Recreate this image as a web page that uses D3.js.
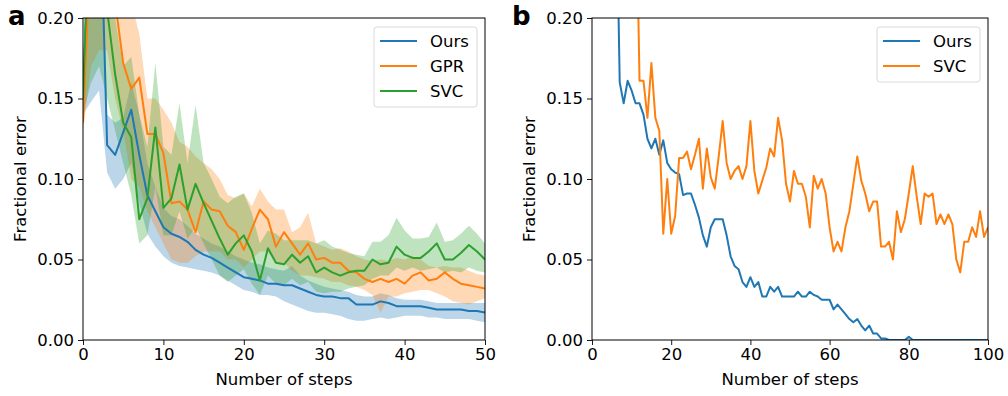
<!DOCTYPE html>
<html><head><meta charset="utf-8">
<script src="https://cdn.jsdelivr.net/npm/d3@7"></script>
<style>body{margin:0;background:#fff;} text{font-family:"DejaVu Sans",sans-serif;}</style>
</head><body><svg id="c" width="1008" height="396"></svg>
<script>
// ---------- data ----------
const stepsA = d3.range(0, 51);
const stepsB = d3.range(0, 101);
const yTicks = [0, 0.05, 0.10, 0.15, 0.20];
const xTicksA = [0, 10, 20, 30, 40, 50];
const xTicksB = [0, 20, 40, 60, 80, 100];

const oursA = [0.145,0.3,0.3,0.121,0.115,0.129,0.143,0.115,0.09,0.08,0.07,0.066,0.064,0.061,0.056,0.053,0.051,0.048,0.045,0.042,0.039,0.038,0.037,0.035,0.035,0.034,0.034,0.032,0.03,0.028,0.027,0.027,0.026,0.026,0.022,0.022,0.022,0.024,0.023,0.021,0.021,0.021,0.021,0.02,0.019,0.019,0.019,0.019,0.018,0.018,0.017];
const oursAUpper = [0.16,0.3,0.3,0.14,0.135,0.138,0.16,0.14,0.11,0.095,0.082,0.077,0.075,0.071,0.066,0.063,0.06,0.058,0.055,0.052,0.05,0.048,0.047,0.045,0.044,0.043,0.046,0.04,0.037,0.035,0.033,0.032,0.031,0.03,0.028,0.027,0.027,0.029,0.028,0.026,0.025,0.025,0.025,0.024,0.023,0.023,0.023,0.023,0.023,0.023,0.023];
const oursALower = [0.14,0.148,0.155,0.104,0.094,0.1,0.11,0.085,0.066,0.058,0.052,0.048,0.046,0.045,0.044,0.043,0.042,0.04,0.037,0.034,0.031,0.03,0.028,0.028,0.027,0.024,0.022,0.02,0.018,0.017,0.017,0.016,0.015,0.013,0.012,0.012,0.013,0.014,0.013,0.014,0.015,0.015,0.015,0.014,0.014,0.013,0.013,0.013,0.013,0.012,0.011];

const gprA = [0.135,0.25,0.25,0.25,0.21,0.172,0.156,0.163,0.128,0.128,0.116,0.085,0.086,0.081,0.067,0.086,0.081,0.08,0.071,0.067,0.056,0.069,0.081,0.075,0.058,0.067,0.06,0.053,0.06,0.05,0.051,0.048,0.048,0.043,0.042,0.038,0.036,0.038,0.036,0.038,0.035,0.04,0.042,0.037,0.038,0.042,0.038,0.035,0.034,0.033,0.032];
const gprAUpper = [0.15,0.3,0.3,0.3,0.3,0.3,0.21,0.19,0.15,0.15,0.143,0.135,0.123,0.12,0.114,0.11,0.106,0.1,0.09,0.088,0.091,0.083,0.094,0.086,0.081,0.081,0.067,0.07,0.079,0.06,0.058,0.056,0.057,0.055,0.052,0.05,0.049,0.05,0.049,0.051,0.05,0.052,0.05,0.046,0.045,0.046,0.045,0.045,0.043,0.041,0.04];
const gprALower = [0.13,0.17,0.18,0.18,0.15,0.13,0.1,0.095,0.08,0.07,0.06,0.05,0.048,0.048,0.052,0.055,0.055,0.055,0.05,0.05,0.045,0.05,0.055,0.055,0.048,0.048,0.043,0.04,0.04,0.039,0.038,0.036,0.036,0.034,0.033,0.031,0.028,0.017,0.027,0.027,0.029,0.03,0.031,0.031,0.029,0.027,0.024,0.023,0.022,0.024,0.026];

const svcA = [0.15,0.3,0.3,0.205,0.165,0.135,0.126,0.075,0.088,0.132,0.082,0.088,0.109,0.081,0.097,0.085,0.074,0.063,0.053,0.06,0.065,0.055,0.037,0.057,0.048,0.047,0.053,0.048,0.052,0.042,0.045,0.042,0.04,0.042,0.043,0.043,0.05,0.047,0.048,0.058,0.053,0.051,0.051,0.055,0.06,0.05,0.05,0.054,0.059,0.055,0.05];
const svcAUpper = [0.16,0.3,0.3,0.3,0.2,0.17,0.176,0.14,0.12,0.172,0.12,0.115,0.147,0.11,0.146,0.11,0.1,0.089,0.085,0.089,0.091,0.079,0.06,0.068,0.066,0.062,0.062,0.062,0.062,0.06,0.062,0.058,0.056,0.054,0.053,0.052,0.061,0.061,0.065,0.076,0.068,0.063,0.063,0.064,0.073,0.061,0.062,0.066,0.071,0.066,0.06];
const svcALower = [0.14,0.16,0.17,0.15,0.13,0.11,0.09,0.06,0.065,0.095,0.065,0.065,0.08,0.063,0.07,0.06,0.05,0.04,0.036,0.04,0.044,0.035,0.028,0.04,0.035,0.034,0.038,0.034,0.036,0.03,0.029,0.03,0.03,0.032,0.033,0.034,0.038,0.04,0.04,0.045,0.043,0.045,0.043,0.044,0.045,0.042,0.043,0.042,0.045,0.043,0.042];

const oursB = [0.3,0.3,0.3,0.3,0.3,0.3,0.3,0.16,0.147,0.161,0.155,0.147,0.147,0.14,0.125,0.119,0.125,0.115,0.124,0.11,0.106,0.104,0.103,0.09,0.091,0.091,0.084,0.076,0.065,0.058,0.07,0.075,0.075,0.075,0.065,0.052,0.046,0.044,0.036,0.033,0.039,0.033,0.036,0.027,0.027,0.033,0.03,0.033,0.027,0.027,0.027,0.027,0.03,0.027,0.027,0.03,0.028,0.027,0.025,0.025,0.025,0.019,0.022,0.019,0.016,0.013,0.011,0.013,0.009,0.006,0.009,0.004,0.004,0.001,0.001,0,0,0,0,0,0.002,0,0,0,0,0,0,0,0,0,0,0,0,0,0,0,0,0,0,0,0];
const svcB = [0.3,0.3,0.3,0.3,0.3,0.3,0.3,0.3,0.3,0.3,0.3,0.3,0.161,0.161,0.138,0.172,0.138,0.13,0.066,0.1,0.066,0.077,0.113,0.113,0.117,0.106,0.115,0.125,0.094,0.119,0.101,0.094,0.114,0.136,0.11,0.1,0.105,0.108,0.1,0.108,0.136,0.105,0.091,0.099,0.107,0.119,0.114,0.138,0.124,0.097,0.086,0.105,0.097,0.097,0.089,0.07,0.102,0.094,0.1,0.091,0.07,0.055,0.061,0.055,0.07,0.08,0.097,0.114,0.099,0.091,0.08,0.086,0.086,0.058,0.058,0.061,0.05,0.08,0.067,0.075,0.091,0.108,0.089,0.072,0.091,0.089,0.091,0.072,0.078,0.072,0.078,0.072,0.05,0.042,0.061,0.061,0.07,0.064,0.08,0.064,0.07];

const C = {ours:"#1f77b4", gpr:"#ff7f0e", svc:"#2ca02c"};

// ---------- drawing ----------
const svg = d3.select("#c");
const plotTop = 18, plotBottom = 340;
const FS = 16.5;

function panel(opts){
  const g = svg.append("g");
  const x = d3.scaleLinear().domain(opts.xdom).range([opts.left, opts.right]);
  const y = d3.scaleLinear().domain([0, 0.2]).range([plotBottom, plotTop]);
  const cid = "clip" + opts.id;
  svg.append("defs").append("clipPath").attr("id", cid)
    .append("rect").attr("x", opts.left).attr("y", plotTop)
    .attr("width", opts.right - opts.left).attr("height", plotBottom - plotTop);
  const plot = g.append("g").attr("clip-path", `url(#${cid})`);

  (opts.bands || []).forEach(b => {
    const area = d3.area().x((d,i)=>x(opts.steps[i])).y0((d,i)=>y(b.lo[i])).y1((d,i)=>y(b.hi[i]));
    plot.append("path").datum(b.lo).attr("d", area)
      .attr("fill", b.color).attr("fill-opacity", 0.3).attr("stroke", "none");
  });
  opts.series.forEach(s => {
    const line = d3.line().x((d,i)=>x(opts.steps[i])).y(d=>y(d));
    plot.append("path").datum(s.values).attr("d", line)
      .attr("fill", "none").attr("stroke", s.color).attr("stroke-width", 2)
      .attr("stroke-linejoin", "round").attr("stroke-linecap", "butt");
  });

  // axes
  const xa = g.append("g").attr("transform", `translate(0,${plotBottom})`)
    .call(d3.axisBottom(x).tickValues(opts.xticks).tickFormat(d3.format("d")).tickSize(5).tickSizeOuter(0));
  const ya = g.append("g").attr("transform", `translate(${opts.left},0)`)
    .call(d3.axisLeft(y).tickValues(yTicks).tickFormat(d3.format(".2f")).tickSize(5).tickSizeOuter(0));
  [xa, ya].forEach(a => {
    a.select(".domain").remove();
    a.selectAll("line").attr("stroke", "#000").attr("stroke-width", 0.9);
    a.selectAll("text").attr("font-size", FS).attr("fill", "#000").attr("font-family", "DejaVu Sans");
  });
  xa.selectAll("text").attr("y", 7).attr("dy", "0.8em");
  ya.selectAll("text").attr("x", -9).attr("dy", "0.33em");

  g.append("rect").attr("x", opts.left).attr("y", plotTop)
    .attr("width", opts.right - opts.left).attr("height", plotBottom - plotTop)
    .attr("fill", "none").attr("stroke", "#000").attr("stroke-width", 1);

  g.append("text").attr("x", (opts.left + opts.right)/2).attr("y", 385)
    .attr("text-anchor", "middle").attr("font-size", FS).text("Number of steps");
  g.append("text").attr("transform", `translate(${opts.left - 57},${(plotTop+plotBottom)/2}) rotate(-90)`)
    .attr("text-anchor", "middle").attr("font-size", FS).text("Fractional error");
  g.append("text").attr("x", opts.labelX).attr("y", 25).attr("font-size", 26)
    .attr("font-weight", "bold").text(opts.label);

  // legend
  const lg = g.append("g");
  const n = opts.series.length;
  const lx = opts.right - 111, ly = 27, lw = 103, lh = n*25 + 5;
  lg.append("rect").attr("x", lx).attr("y", ly).attr("width", lw).attr("height", lh)
    .attr("rx", 3).attr("fill", "#fff").attr("fill-opacity", 0.8)
    .attr("stroke", "#d9d9d9").attr("stroke-width", 1);
  opts.series.forEach((s, i) => {
    const yy = ly + 14 + i*25;
    lg.append("line").attr("x1", lx + 6).attr("x2", lx + 43).attr("y1", yy).attr("y2", yy)
      .attr("stroke", s.color).attr("stroke-width", 2);
    lg.append("text").attr("x", lx + 56).attr("y", yy).attr("dy", "0.36em").attr("font-size", FS).text(s.name);
  });
}

panel({id:"a", left:83, right:485, xdom:[0,50], steps:stepsA, xticks:xTicksA, label:"a", labelX:8,
  bands:[{lo:oursALower, hi:oursAUpper, color:C.ours},{lo:gprALower, hi:gprAUpper, color:C.gpr},{lo:svcALower, hi:svcAUpper, color:C.svc}],
  series:[{name:"Ours", values:oursA, color:C.ours},{name:"GPR", values:gprA, color:C.gpr},{name:"SVC", values:svcA, color:C.svc}]});

panel({id:"b", left:592, right:988, xdom:[0,100], steps:stepsB, xticks:xTicksB, label:"b", labelX:512,
  series:[{name:"Ours", values:oursB, color:C.ours},{name:"SVC", values:svcB, color:C.gpr}]});
</script></body></html>
